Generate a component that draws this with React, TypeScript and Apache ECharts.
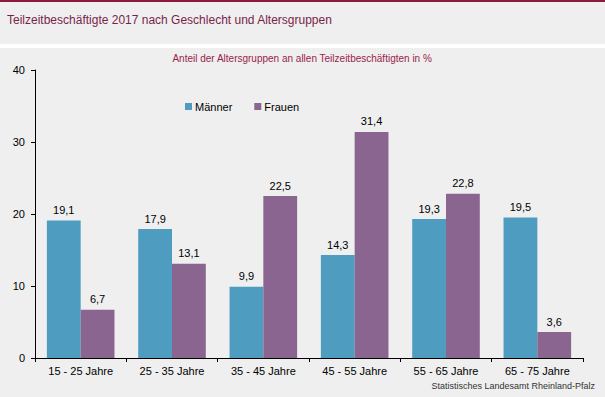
import React, { useEffect, useRef } from "react";
import * as echarts from "echarts";

const categories = ["15 - 25 Jahre", "25 - 35 Jahre", "35 - 45 Jahre", "45 - 55 Jahre", "55 - 65 Jahre", "65 - 75 Jahre"];
const maenner = [19.1, 17.9, 9.9, 14.3, 19.3, 19.5];
const frauen = [6.7, 13.1, 22.5, 31.4, 22.8, 3.6];
const yTicks = { min: 0, max: 40, interval: 10 };

const FONT = "'Liberation Sans', Arial, sans-serif";
const fmt = (v: number) => v.toFixed(1).replace(".", ",");

export default function App() {
  const ref = useRef<HTMLDivElement>(null);
  useEffect(() => {
    document.body.style.margin = "0";
    const chart = echarts.init(ref.current!, null, { renderer: "svg" });
    chart.setOption({
      animation: false,
      backgroundColor: "#ffffff",
      textStyle: { fontFamily: FONT },
      graphic: [
        { type: "rect", shape: { x: 0, y: 0, width: 605, height: 44 }, style: { fill: "#eeefee" }, z: -10 },
        { type: "rect", shape: { x: 0, y: 48, width: 605, height: 349 }, style: { fill: "#eeefee" }, z: -10 },
        { type: "rect", shape: { x: 0, y: 0, width: 605, height: 2 }, style: { fill: "#8b1a3a" }, z: -9 },
        {
          type: "text", left: 7, top: 14,
          style: { text: "Teilzeitbeschäftigte 2017 nach Geschlecht und Altersgruppen", fill: "#7a1f4c", font: `12px ${FONT}` },
        },
        {
          type: "text", left: "center", top: 53,
          style: { text: "Anteil der Altersgruppen an allen Teilzeitbeschäftigten in %", fill: "#9b1d4a", font: `10px ${FONT}` },
        },
        {
          type: "text", right: 10, top: 381,
          style: { text: "Statistisches Landesamt Rheinland-Pfalz", fill: "#333333", font: `9px ${FONT}` },
        },
      ],
      legend: {
        left: 180, top: 96,
        itemWidth: 7, itemHeight: 7, itemGap: 22,
        icon: "rect",
        textStyle: { fontSize: 11, color: "#000", fontFamily: FONT, padding: [0, 0, 0, -2] },
        data: ["Männer", "Frauen"],
      },
      grid: { left: 35, right: 22, top: 70, bottom: 39 },
      xAxis: {
        type: "category",
        data: categories,
        axisLine: { lineStyle: { color: "#000", width: 1 } },
        axisTick: { show: true, alignWithLabel: false, interval: 0, length: 4, lineStyle: { color: "#000" } },
        axisLabel: { color: "#000", fontSize: 11, fontFamily: FONT, interval: 0, margin: 7 },
      },
      yAxis: {
        type: "value",
        min: yTicks.min, max: yTicks.max, interval: yTicks.interval,
        axisLine: { show: true, lineStyle: { color: "#000", width: 1 } },
        axisTick: { show: true, length: 4, lineStyle: { color: "#000" } },
        splitLine: { show: false },
        axisLabel: { color: "#000", fontSize: 11, fontFamily: FONT, margin: 10 },
      },
      series: [
        {
          name: "Männer", type: "bar", data: maenner, barGap: "0%", barCategoryGap: "26%",
          itemStyle: { color: "#4e9dc0" },
          label: { show: true, position: "top", color: "#000", fontSize: 11, fontFamily: FONT, distance: 5, formatter: (p: any) => fmt(p.value) },
        },
        {
          name: "Frauen", type: "bar", data: frauen,
          itemStyle: { color: "#8a6590" },
          label: { show: true, position: "top", color: "#000", fontSize: 11, fontFamily: FONT, distance: 5, formatter: (p: any) => fmt(p.value) },
        },
      ],
    });
    return () => chart.dispose();
  }, []);
  return <div ref={ref} style={{ width: 605, height: 397 }} />;
}
